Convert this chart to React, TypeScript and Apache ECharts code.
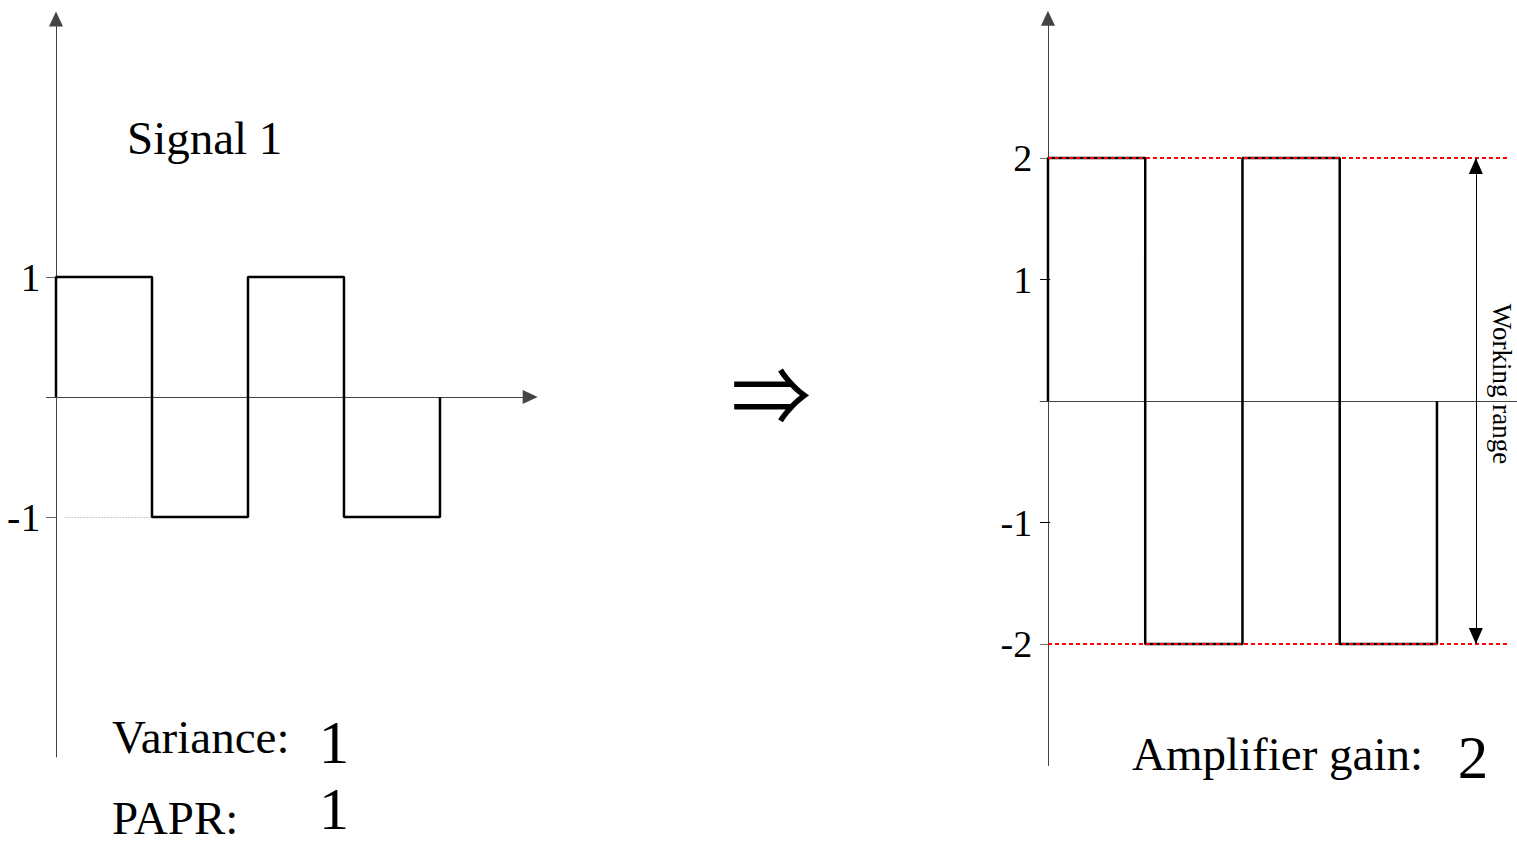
import React, { useEffect, useRef } from "react";
import * as echarts from "echarts";

// Square-wave levels, one per unit-length segment
const inputLevels = [1, -1, 1, -1];
const amplifiedLevels = [2, -2, 2, -2];

// Tick values shown on each vertical axis
const inputTicks = [-1, 1];
const outputTicks = [-2, -1, 1, 2];
const outputCrossTicks = [-1, 1];

// Limits of the amplifier's working range
const workingRange = [2, -2];

const SERIF = "'Liberation Serif', 'Times New Roman', 'DejaVu Serif', serif";

// Arrowhead whose tip sits at the symbol's centre (a zero-area sliver pads the box)
const TIP_ARROW = "path://M0,0L7,16L-7,16Z M0,-16L0.01,-16L0,-16Z";

function stepPoints(levels: number[]): number[][] {
  const pts: number[][] = [[0, 0]];
  levels.forEach((v, i) => {
    pts.push([i, v]);
    pts.push([i + 1, v]);
  });
  pts.push([levels.length, 0]);
  return pts;
}

export default function App() {
  const ref = useRef<HTMLDivElement>(null);

  useEffect(() => {
    if (!ref.current) return;
    const chart = echarts.init(ref.current, undefined, { renderer: "svg" });

    const axisColor = "#444";
    const tickLabel = {
      color: "#000",
      fontFamily: SERIF,
      fontSize: 40,
      margin: 6,
    };

    const option: any = {
      animation: false,
      backgroundColor: "#fff",
      grid: [
        { left: 46.4, top: 19, width: 483.8, height: 738 },
        { left: 1040.2, top: 18.3, width: 476.5, height: 747.2 },
      ],
      xAxis: [
        {
          type: "value",
          gridIndex: 0,
          min: -0.1,
          max: 4.94,
          axisLine: {
            onZero: true,
            symbol: ["none", "triangle"],
            symbolSize: [14, 15],
            lineStyle: { color: axisColor, width: 1 },
          },
          axisTick: { show: false },
          axisLabel: { show: false },
          splitLine: { show: false },
        },
        {
          type: "value",
          gridIndex: 1,
          min: -0.08,
          max: 4.82,
          axisLine: {
            onZero: true,
            lineStyle: { color: axisColor, width: 1 },
          },
          axisTick: { show: false },
          axisLabel: { show: false },
          splitLine: { show: false },
        },
      ],
      yAxis: [
        {
          type: "value",
          gridIndex: 0,
          min: -3,
          max: 3.15,
          axisLine: {
            onZero: true,
            symbol: ["none", "triangle"],
            symbolSize: [14, 15],
            lineStyle: { color: axisColor, width: 1 },
          },
          axisTick: {
            show: true,
            length: 10,
            customValues: inputTicks,
            lineStyle: { color: "#666", width: 1 },
          },
          axisLabel: { ...tickLabel, customValues: inputTicks },
          splitLine: { show: false },
        },
        {
          type: "value",
          gridIndex: 1,
          min: -3,
          max: 3.15,
          axisLine: {
            onZero: true,
            symbol: ["none", "triangle"],
            symbolSize: [14, 15],
            lineStyle: { color: axisColor, width: 1 },
          },
          axisTick: {
            show: true,
            length: 8,
            customValues: outputTicks,
            lineStyle: { color: "#777", width: 1 },
          },
          axisLabel: { ...tickLabel, fontSize: 38, margin: 8, customValues: outputTicks },
          splitLine: { show: false },
        },
        {
          type: "value",
          gridIndex: 1,
          position: "left",
          min: -3,
          max: 3.15,
          axisLine: { show: false, onZero: true },
          axisTick: {
            show: true,
            inside: true,
            length: 10,
            customValues: outputCrossTicks,
            lineStyle: { color: "#000", width: 1 },
          },
          axisLabel: { show: false },
          splitLine: { show: false },
        },
      ],
      series: [
        {
          type: "line",
          xAxisIndex: 0,
          yAxisIndex: 0,
          data: stepPoints(inputLevels),
          symbol: "none",
          lineStyle: { color: "#000", width: 2.5 },
          markLine: {
            silent: true,
            symbol: "none",
            label: { show: false },
            lineStyle: { color: "#999", type: [1, 2], width: 1 },
            data: [[{ coord: [0.1, inputLevels[1]] }, { coord: [1, inputLevels[1]] }]],
          },
        },
        {
          type: "line",
          xAxisIndex: 1,
          yAxisIndex: 1,
          data: stepPoints(amplifiedLevels),
          symbol: "none",
          z: 2,
          lineStyle: { color: "#000", width: 2.5 },
        },
        {
          type: "line",
          xAxisIndex: 1,
          yAxisIndex: 1,
          data: [],
          z: 3,
          markLine: {
            silent: true,
            symbol: "none",
            label: { show: false },
            lineStyle: { color: "#ff0000", type: [4, 3], width: 2 },
            data: workingRange.map((v) => [{ coord: [0, v] }, { coord: [4.75, v] }]),
          },
        },
        {
          type: "line",
          xAxisIndex: 1,
          yAxisIndex: 1,
          data: [],
          z: 4,
          markLine: {
            silent: true,
            symbol: [TIP_ARROW, TIP_ARROW],
            symbolSize: [14, 32],
            label: { show: false },
            lineStyle: { color: "#000", type: "solid", width: 1 },
            itemStyle: { color: "#000" },
            data: [[{ coord: [4.4, workingRange[0]] }, { coord: [4.4, workingRange[1]] }]],
          },
        },
      ],
      graphic: [
        {
          type: "text",
          x: 127,
          y: 138,
          style: { text: "Signal 1", fontFamily: SERIF, fontSize: 47, fill: "#000", textAlign: "left", textVerticalAlign: "middle" },
        },
        {
          type: "text",
          x: 112,
          y: 737,
          style: { text: "Variance:", fontFamily: SERIF, fontSize: 47, fill: "#000", textAlign: "left", textVerticalAlign: "middle" },
        },
        {
          type: "text",
          x: 334,
          y: 742,
          style: { text: "1", fontFamily: SERIF, fontSize: 61, lineHeight: 40, fill: "#000", textAlign: "center", textVerticalAlign: "middle" },
        },
        {
          type: "text",
          x: 112,
          y: 818,
          style: { text: "PAPR:", fontFamily: SERIF, fontSize: 47, fill: "#000", textAlign: "left", textVerticalAlign: "middle" },
        },
        {
          type: "text",
          x: 334,
          y: 809,
          style: { text: "1", fontFamily: SERIF, fontSize: 60, lineHeight: 40, fill: "#000", textAlign: "center", textVerticalAlign: "middle" },
        },
        {
          type: "text",
          x: 771,
          y: 390,
          style: { text: "⇒", fontFamily: "'Noto Sans CJK JP', 'DejaVu Sans', sans-serif", fontSize: 80, fill: "#000", textAlign: "center", textVerticalAlign: "middle" },
        },
        {
          type: "text",
          x: 1132,
          y: 754,
          style: { text: "Amplifier gain:", fontFamily: SERIF, fontSize: 47, fill: "#000", textAlign: "left", textVerticalAlign: "middle" },
        },
        {
          type: "text",
          x: 1473,
          y: 757,
          style: { text: "2", fontFamily: SERIF, fontSize: 61, lineHeight: 40, fill: "#000", textAlign: "center", textVerticalAlign: "middle" },
        },
        {
          type: "text",
          x: 1502,
          y: 384,
          rotation: -Math.PI / 2,
          style: { text: "Working range", fontFamily: SERIF, fontSize: 27, lineHeight: 24, fill: "#000", textAlign: "center", textVerticalAlign: "middle" },
        },
      ],
    };

    chart.setOption(option);
    return () => chart.dispose();
  }, []);

  return (
    <div
      ref={ref}
      style={{ position: "fixed", left: 0, top: 0, width: 1517, height: 843, background: "#fff" }}
    />
  );
}
